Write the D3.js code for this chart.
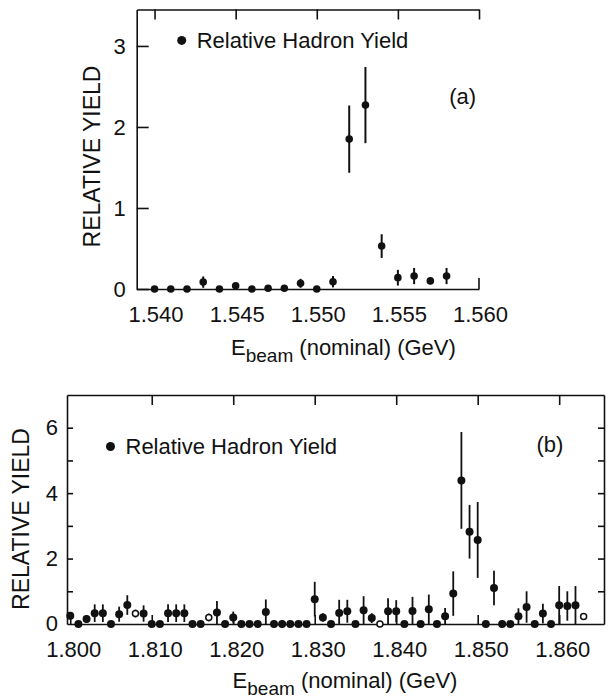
<!DOCTYPE html>
<html>
<head>
<meta charset="utf-8">
<script src="https://cdn.jsdelivr.net/npm/d3@7"></script>
<style>
    body { margin: 0; background: #fff; }
    svg text { font-family: "Liberation Sans", Arial, sans-serif; fill: #111; }
    .axis path, .axis line { stroke: #111; stroke-width: 1.6; }
    .axis text { font-size: 22px; fill: #111; }
    .err-bar { stroke: #111; }
    .yield-point { fill: #111; }
    .yield-point.open { fill: #fff; stroke: #111; stroke-width: 1.5; }
</style>
</head>
<body>
<div id="chart"></div>
<script>
// panel (a), 1.54 GeV scan
var energyA = [1.540, 1.541, 1.542, 1.543, 1.544, 1.545, 1.546, 1.547, 1.548, 1.549,
               1.550, 1.551, 1.552, 1.553, 1.554, 1.555, 1.556, 1.557, 1.558];
var yieldA  = [0, 0, 0, 0.085, 0, 0.04, 0, 0.01, 0.01, 0.07,
               0, 0.09, 1.85, 2.27, 0.53, 0.14, 0.16, 0.10, 0.16];
var errA    = [0, 0, 0, 0.07, 0, 0.04, 0, 0, 0, 0.055,
               0, 0.07, 0.415, 0.47, 0.146, 0.097, 0.10, 0.04, 0.10];

// panel (b), 1.86 GeV scan
var energyB = [1.800, 1.801, 1.802, 1.803, 1.804, 1.805, 1.806, 1.807, 1.808, 1.809,
               1.810, 1.811, 1.812, 1.813, 1.814, 1.815, 1.816, 1.817, 1.818, 1.819,
               1.820, 1.821, 1.822, 1.823, 1.824, 1.825, 1.826, 1.827, 1.828, 1.829,
               1.830, 1.831, 1.832, 1.833, 1.834, 1.835, 1.836, 1.837, 1.838, 1.839,
               1.840, 1.841, 1.842, 1.843, 1.844, 1.845, 1.846, 1.847, 1.848, 1.849,
               1.850, 1.851, 1.852, 1.853, 1.854, 1.855, 1.856, 1.857, 1.858, 1.859,
               1.860, 1.861, 1.862, 1.863];
var yieldB  = [0.25, 0, 0.15, 0.33, 0.33, 0, 0.30, 0.58, 0.32, 0.32,
               0, 0, 0.33, 0.33, 0.33, 0, 0, 0.20, 0.35, 0,
               0.20, 0, 0, 0, 0.37, 0, 0, 0, 0, 0,
               0.76, 0.20, 0, 0.34, 0.39, 0, 0.42, 0.18, 0, 0.39,
               0.39, 0, 0.40, 0, 0.45, 0, 0.24, 0.93, 4.39, 2.82,
               2.57, 0, 1.10, 0, 0, 0.24, 0.52, 0, 0.32, 0,
               0.57, 0.55, 0.57, 0.23];
var errB    = [0.12, 0, 0.12, 0.27, 0.27, 0, 0.23, 0.30, 0.12, 0.25,
               0, 0, 0.27, 0.27, 0.27, 0, 0, 0.12, 0.35, 0,
               0.18, 0, 0, 0, 0.38, 0, 0, 0, 0, 0,
               0.53, 0.13, 0, 0.40, 0.35, 0, 0.43, 0.15, 0, 0.40,
               0.34, 0, 0.43, 0, 0.45, 0, 0.25, 0.68, 1.48, 0.82,
               1.16, 0, 0.53, 0, 0, 0.24, 0.48, 0, 0.30, 0,
               0.59, 0.45, 0.59, 0.10];
var openB   = [1.808, 1.817, 1.838, 1.863];

// ticks
var xTicksA = [1.540, 1.545, 1.550, 1.555, 1.560];
var yTicksA = [0, 1, 2, 3];
var xTicksB = [1.800, 1.810, 1.820, 1.830, 1.840, 1.850, 1.860];
var yTicksB = [0, 1, 2, 3, 4, 5, 6, 7];
var yLabelsB = [0, 2, 4, 6];

var svg = d3.select("#chart").append("svg")
    .attr("width", 608)
    .attr("height", 700);

YieldChart = function(_svg, _data, _config) {
    this.svg = _svg;
    this.data = _data;
    this.config = _config;
    this.initVis();
};

YieldChart.prototype.initVis = function() {
    var vis = this;
    var c = vis.config;

    vis.width = c.width;
    vis.height = c.height;

    vis.g = vis.svg.append("g")
        .attr("transform", "translate(" + c.left + "," + c.top + ")");

    vis.xScale = d3.scaleLinear().domain(c.xDomain).range([0, vis.width]);
    vis.yScale = d3.scaleLinear().domain(c.yDomain).range([vis.height, 0]);

    // frame: ticks all point inward
    vis.g.append("g")
        .attr("class", "axis")
        .call(d3.axisTop(vis.xScale).tickValues(c.topTicks).tickSizeInner(-10).tickSizeOuter(0).tickFormat(""));

    vis.g.append("g")
        .attr("class", "axis")
        .attr("transform", "translate(0," + vis.height + ")")
        .call(d3.axisBottom(vis.xScale).tickValues(c.xTicks).tickSizeInner(c.bottomTick).tickSizeOuter(0)
            .tickPadding(17.5).tickFormat(d3.format(".3f")))
        .selectAll("text").attr("dx", c.labelShift);

    vis.g.append("g")
        .attr("class", "axis")
        .call(d3.axisLeft(vis.yScale).tickValues(c.yTicks).tickSizeInner(-c.leftTick).tickSizeOuter(0)
            .tickPadding(c.yPad)
            .tickFormat(function(d) { return c.yLabels.indexOf(d) >= 0 ? d : ""; }));

    if (c.rightAxis) {
        vis.g.append("g")
            .attr("class", "axis")
            .attr("transform", "translate(" + vis.width + ",0)")
            .call(d3.axisRight(vis.yScale).tickValues(c.yTicks).tickSizeInner(-6).tickSizeOuter(0).tickFormat(""));
    } else {
        vis.g.append("line")
            .attr("stroke", "#111").attr("stroke-width", 1.6)
            .attr("x1", vis.width).attr("x2", vis.width)
            .attr("y1", vis.height).attr("y2", vis.height - 11);
    }

    // legend
    vis.g.append("circle")
        .attr("cx", c.legend[0]).attr("cy", c.legend[1] - 7.5).attr("r", 4.5)
        .attr("fill", "#111");
    vis.g.append("text")
        .attr("x", c.legend[0] + 15).attr("y", c.legend[1])
        .style("font-size", "22px")
        .text("Relative Hadron Yield");

    vis.g.append("text")
        .attr("x", c.tag[0]).attr("y", c.tag[1])
        .attr("text-anchor", "middle")
        .style("font-size", "22px")
        .text(c.tagText);

    // axis titles
    vis.g.append("text")
        .attr("transform", "translate(" + c.yTitle[0] + "," + c.yTitle[1] + ") rotate(-90)")
        .attr("text-anchor", "middle")
        .style("font-size", "23px")
        .text("RELATIVE YIELD");

    var xt = vis.g.append("text")
        .attr("x", c.xTitle[0]).attr("y", c.xTitle[1])
        .style("font-size", "22px");
    xt.append("tspan").text("E");
    xt.append("tspan").attr("dy", 7).style("font-size", "19px").text("beam");
    xt.append("tspan").attr("dy", -7).text(" (nominal) (GeV)");

    vis.updateChart();
};

YieldChart.prototype.updateChart = function() {
    var vis = this;

    vis.g.selectAll(".err-bar")
        .data(vis.data.filter(function(d) { return d.err > 0; }))
        .enter()
        .append("line")
        .attr("class", "err-bar")
        .attr("stroke-width", vis.config.barWidth)
        .attr("x1", function(d) { return vis.xScale(d.energy); })
        .attr("x2", function(d) { return vis.xScale(d.energy); })
        .attr("y1", function(d) { return vis.yScale(d.value + d.err); })
        .attr("y2", function(d) { return vis.yScale(Math.max(0, d.value - d.err)); });

    vis.g.selectAll(".yield-point")
        .data(vis.data)
        .enter()
        .append("circle")
        .attr("class", function(d) { return d.open ? "yield-point open" : "yield-point"; })
        .attr("cx", function(d) { return vis.xScale(d.energy); })
        .attr("cy", function(d) { return vis.yScale(d.value); })
        .attr("r", function(d) { return d.open ? 3 : vis.config.radius; });
};

var dataA = energyA.map(function(e, i) {
    return { energy: e, value: yieldA[i], err: errA[i], open: false };
});
var dataB = energyB.map(function(e, i) {
    return { energy: e, value: yieldB[i], err: errB[i], open: openB.indexOf(e) >= 0 };
});

var chartA = new YieldChart(svg, dataA, {
    left: 136.7, top: 9.5, width: 342.3, height: 279.5,
    xDomain: [1.5389, 1.5600], yDomain: [0, 3.45],
    topTicks: xTicksA, xTicks: xTicksA, yTicks: yTicksA, yLabels: yTicksA,
    bottomTick: 0, leftTick: 12, yPad: 11, labelShift: 1, rightAxis: false,
    legend: [45, 38.4], tag: [326, 94], tagText: "(a)",
    yTitle: [-36.7, 147], xTitle: [94.3, 345],
    barWidth: 2, radius: 3.8
});

var chartB = new YieldChart(svg, dataB, {
    left: 67, top: 395, width: 537, height: 229,
    xDomain: [1.7996, 1.8655], yDomain: [0, 7],
    topTicks: xTicksB.slice(1), xTicks: xTicksB, yTicks: yTicksB.slice(1, 7), yLabels: yLabelsB,
    bottomTick: -9, leftTick: 6, yPad: 9, labelShift: 3, rightAxis: true,
    legend: [43.5, 59], tag: [483, 57], tagText: "(b)",
    yTitle: [-38, 124], xTitle: [165.6, 293],
    barWidth: 1.8, radius: 4
});

// y label "0" in panel (b) sits on the bottom frame, add it since tickValues skip 0
chartB.g.append("text")
    .attr("x", -9).attr("y", chartB.yScale(0)).attr("dy", "0.32em")
    .attr("text-anchor", "end")
    .style("font-size", "22px")
    .text("0");
</script>
</body>
</html>
